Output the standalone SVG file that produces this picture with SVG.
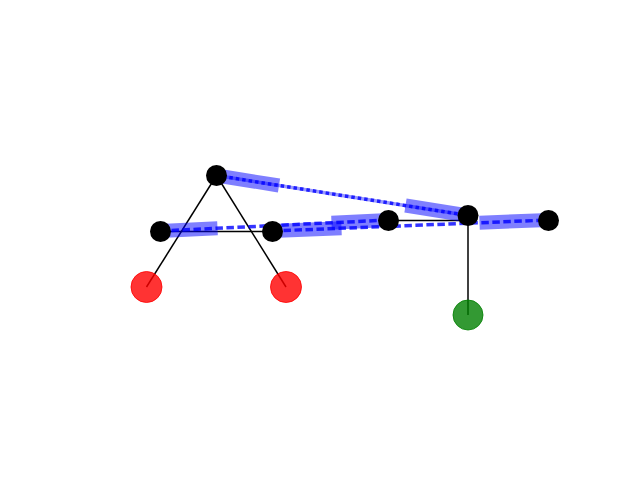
<svg xmlns="http://www.w3.org/2000/svg" width="640" height="480" viewBox="0 0 640 480">
<style>
.link{stroke:#000;stroke-width:1.5;fill:none}
.band{stroke:#0000ff;stroke-opacity:0.5;stroke-width:14;stroke-linecap:butt;fill:none}
.dash{stroke:#0000ff;stroke-opacity:0.8;stroke-width:3.5;stroke-dasharray:7.5,3.5;fill:none}
.dot{stroke:#0000ff;stroke-opacity:0.8;stroke-width:3.5;fill:none}
.node{fill:#000}
.red{fill:#ff0000;fill-opacity:0.8;stroke:#ff0000;stroke-opacity:0.8}
.green{fill:#008000;fill-opacity:0.8;stroke:#008000;stroke-opacity:0.8}
</style>
<rect width="640" height="480" fill="#fff"/>
<g id="links">
<line class="link" x1="216.5" y1="175.5" x2="146.5" y2="287"/>
<line class="link" x1="216.5" y1="175.5" x2="286" y2="287"/>
<line class="link" x1="160.5" y1="231.5" x2="272.5" y2="231.5"/>
<line class="link" x1="388" y1="220.5" x2="468" y2="220.5"/>
<line class="link" x1="468" y1="215" x2="468" y2="315"/>
</g>
<g id="connectors">
<line class="band" x1="216.5" y1="175.5" x2="279" y2="185.5"/>
<line class="band" x1="405.5" y1="205.5" x2="468" y2="215.5"/>
<line x1="216.5" y1="175.5" x2="468" y2="215.5" stroke="#0000ff" stroke-opacity="0.4" stroke-width="3.5"/>
<line class="dot" x1="216.5" y1="175.5" x2="468" y2="215.5" stroke-dasharray="3.5,3"/>
<line class="band" x1="160.5" y1="231" x2="217.5" y2="228.25"/>
<line class="band" x1="331.5" y1="222.75" x2="388.5" y2="220"/>
<line class="dash" x1="160.5" y1="231" x2="388.5" y2="220"/>
<line class="band" x1="272.5" y1="231" x2="341.5" y2="228.25"/>
<line class="band" x1="479.5" y1="222.75" x2="548.5" y2="220"/>
<line class="dash" x1="272.5" y1="231" x2="548.5" y2="220"/>
</g>
<g id="goal-left"><circle class="red" cx="146.5" cy="287" r="15.5"/></g>
<g id="goal-right"><circle class="red" cx="286" cy="287" r="15.5"/></g>
<g id="goal-green"><circle class="green" cx="468" cy="315" r="15"/></g>
<g id="nA"><circle class="node" cx="216.5" cy="175.5" r="10.5"/></g>
<g id="nB"><circle class="node" cx="160.5" cy="231.5" r="10.5"/></g>
<g id="nC"><circle class="node" cx="272.5" cy="231.5" r="10.5"/></g>
<g id="nD"><circle class="node" cx="388.5" cy="220.5" r="10.5"/></g>
<g id="nE"><circle class="node" cx="468" cy="215.5" r="10.5"/></g>
<g id="nF"><circle class="node" cx="548.5" cy="220.5" r="10.5"/></g>
</svg>
